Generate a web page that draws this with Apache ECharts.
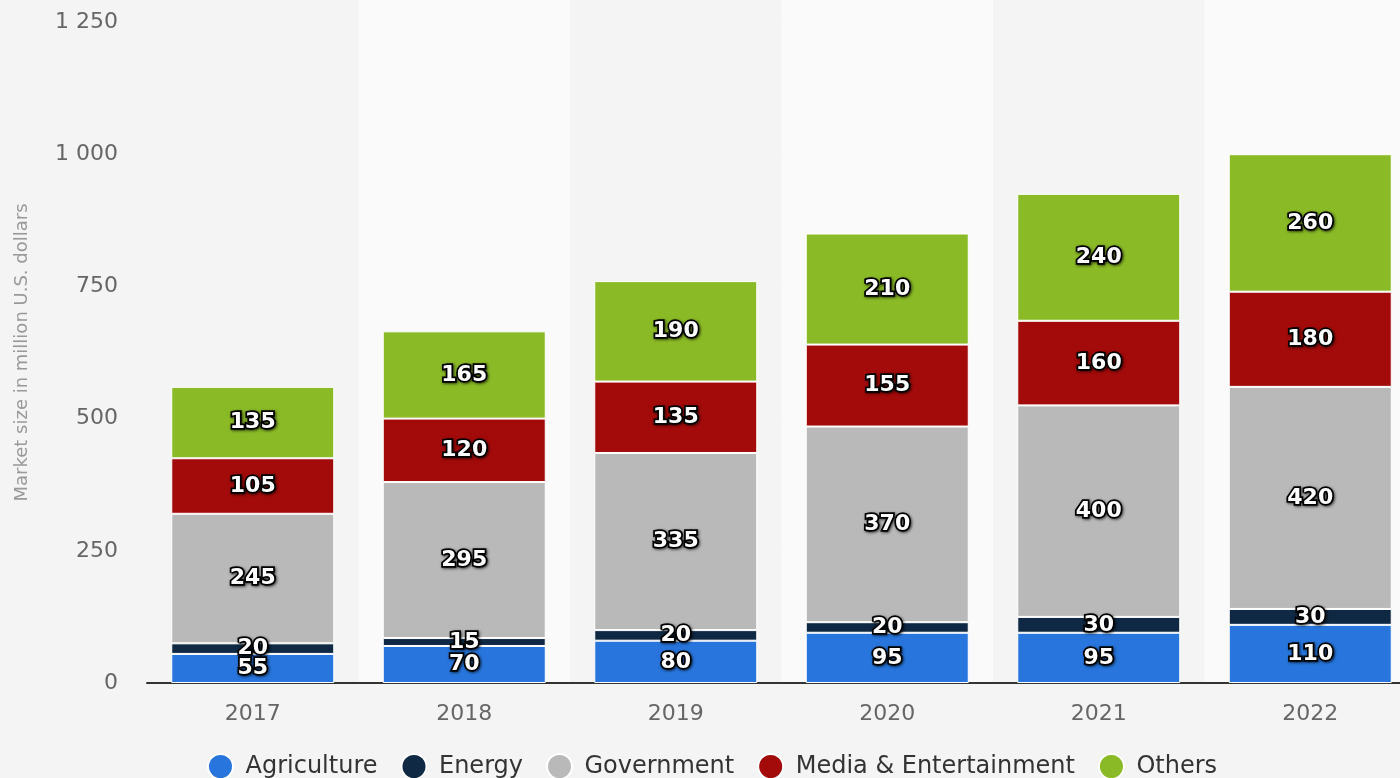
<!DOCTYPE html>
<html>
<head>
<meta charset="utf-8">
<script src="https://cdn.jsdelivr.net/npm/echarts@6/dist/echarts.min.js"></script>
<style>
  html, body { margin: 0; padding: 0; background: #f4f4f4; }
  #main { width: 1400px; height: 778px; }
</style>
</head>
<body>
<div id="main"></div>
<script>
// market size by segment, million U.S. dollars
var years = ['2017', '2018', '2019', '2020', '2021', '2022'];
var agriculture = [55, 70, 80, 95, 95, 110];
var energy = [20, 15, 20, 20, 30, 30];
var government = [245, 295, 335, 370, 400, 420];
var media = [105, 120, 135, 155, 160, 180];
var others = [135, 165, 190, 210, 240, 260];

var seriesNames = ['Agriculture', 'Energy', 'Government', 'Media & Entertainment', 'Others'];
var seriesData = [agriculture, energy, government, media, others];
var colors = ['#2876dd', '#0f2843', '#b9b9b9', '#a30b0b', '#8aba26'];

var chart = echarts.init(document.getElementById('main'));

function thousands(v) {
  return String(v).replace(/\B(?=(\d{3})+(?!\d))/g, ' ');
}

var series = seriesNames.map(function (name, i) {
  return {
    name: name,
    type: 'bar',
    stack: 'total',
    xAxisIndex: 1,
    yAxisIndex: 1,
    barWidth: 163,
    data: seriesData[i],
    itemStyle: {
      color: colors[i],
      borderColor: '#ffffff',
      borderWidth: 1
    },
    label: {
      show: true,
      position: 'inside',
      fontFamily: 'DejaVu Sans',
      fontWeight: 'bold',
      fontSize: 22,
      color: '#ffffff',
      textBorderColor: '#000000',
      textBorderWidth: 3.5,
      textShadowColor: 'rgba(0,0,0,0.6)',
      textShadowBlur: 3,
      textShadowOffsetX: 1,
      textShadowOffsetY: 1
    }
  };
});

var option = {
  backgroundColor: '#f4f4f4',
  color: colors,
  textStyle: { fontFamily: 'DejaVu Sans' },
  legend: {
    data: seriesNames,
    top: 748,
    left: 202,
    icon: 'circle',
    itemWidth: 40,
    itemHeight: 25,
    itemGap: 23,
    textStyle: { fontSize: 24, color: '#333333', fontFamily: 'DejaVu Sans' }
  },
  grid: [
    // background bands reach the top of the picture; last column runs past the edge
    { left: 147, width: 1269, top: 0, bottom: 95, outerBoundsMode: 'none' },
    { left: 147, width: 1269, top: 22, bottom: 95, outerBoundsMode: 'none' }
  ],
  xAxis: [
    {
      type: 'category',
      gridIndex: 0,
      data: years,
      axisLine: { show: false },
      axisTick: { show: false },
      axisLabel: { show: false },
      splitArea: { show: true, areaStyle: { color: ['#f4f4f4', '#fafafa'] } }
    },
    {
      type: 'category',
      gridIndex: 1,
      data: years,
      axisLine: { lineStyle: { color: '#333333', width: 2 } },
      axisTick: { show: false },
      axisLabel: { fontSize: 22, color: '#666666', margin: 20 }
    }
  ],
  yAxis: [
    {
      type: 'value',
      gridIndex: 0,
      show: false,
      splitLine: { show: false }
    },
    {
      type: 'value',
      gridIndex: 1,
      min: 0,
      max: 1250,
      interval: 250,
      name: 'Market size in million U.S. dollars',
      nameLocation: 'middle',
      nameGap: 116,
      nameTextStyle: { fontSize: 18, color: '#999999' },
      axisLine: { show: false },
      axisTick: { show: false },
      axisLabel: {
        fontSize: 22,
        color: '#666666',
        margin: 29,
        formatter: thousands
      },
      splitLine: { lineStyle: { color: '#cccccc', type: 'dotted', width: 1 } }
    }
  ],
  series: series
};

chart.setOption(option);
</script>
</body>
</html>
